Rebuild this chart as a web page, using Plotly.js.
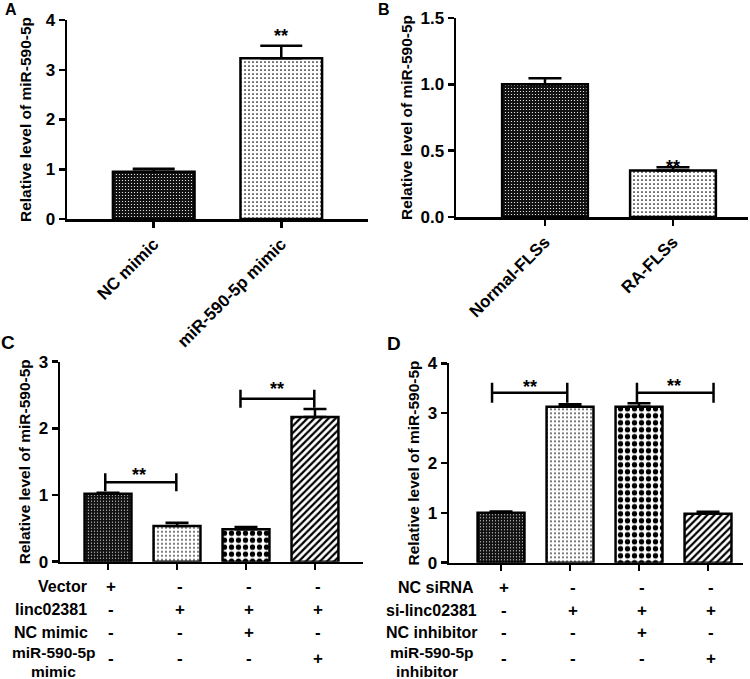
<!DOCTYPE html>
<html>
<head>
<meta charset="utf-8">
<script src="https://cdn.plot.ly/plotly-3.0.1.min.js"></script>
<style>html,body{margin:0;padding:0;background:#fff;}</style>
</head>
<body>
<div id="chart" style="width:750px;height:679px;"></div>
<script>
// ---------- data ----------
const catsA = ['NC mimic', 'miR-590-5p mimic'];
const meanA = [0.95, 3.23];
const errA  = [0.06, 0.25];

const catsB = ['Normal-FLSs', 'RA-FLSs'];
const meanB = [1.0, 0.35];
const errB  = [0.045, 0.025];

const groupsC = [0, 1, 2, 3];
const meanC = [1.02, 0.535, 0.485, 2.17];
const errC  = [0.015, 0.05, 0.035, 0.12];

const groupsD = [0, 1, 2, 3];
const meanD = [1.0, 3.13, 3.13, 0.98];
const errD  = [0.025, 0.05, 0.07, 0.04];

const rowsC = ['Vector', 'linc02381', 'NC mimic', 'miR-590-5p|mimic'];
const signsC = [['+','-','-','-'], ['-','+','+','+'], ['-','-','+','-'], ['-','-','-','+']];
const rowsD = ['NC siRNA', 'si-linc02381', 'NC inhibitor', 'miR-590-5p|inhibitor'];
const signsD = [['+','-','-','-'], ['-','+','+','+'], ['-','-','+','-'], ['-','-','-','+']];

const yTitle = 'Relative level of miR-590-5p';
const sigText = '**';

// ---------- styles ----------
const PAT = {
  dark:    {shape: '.', bgcolor: '#111111', fgcolor: '#ffffff', size: 3, solidity: 0.13},
  dots:    {shape: '.', bgcolor: '#ffffff', fgcolor: '#000000', size: 4, solidity: 0.14},
  checker: {shape: '.', bgcolor: '#ffffff', fgcolor: '#000000', size: 7, solidity: 0.45},
  diag:    {shape: '/', bgcolor: '#ffffff', fgcolor: '#000000', size: 5, solidity: 0.45}
};
function patArr(list) {
  return {
    shape: list.map(p => p.shape),
    bgcolor: list.map(p => p.bgcolor),
    fgcolor: list.map(p => p.fgcolor),
    size: list.map(p => p.size),
    solidity: list.map(p => p.solidity),
    fillmode: 'replace'
  };
}
function barTrace(x, y, err, pats, xa, ya, width, capw) {
  return {
    type: 'bar', x: x, y: y, xaxis: xa, yaxis: ya, width: width,
    marker: {color: 'white', line: {color: 'black', width: 2.5}, pattern: patArr(pats)},
    error_y: {type: 'data', symmetric: false, array: err, arrayminus: err.map(() => 0),
              color: 'black', thickness: 2.5, width: capw},
    hoverinfo: 'skip'
  };
}

const traces = [
  barTrace(catsA, meanA, errA, [PAT.dark, PAT.dots], 'x', 'y', 0.64, 21),
  barTrace(catsB, meanB, errB, [PAT.dark, PAT.dots], 'x2', 'y2', 0.67, 16.5),
  barTrace(groupsC, meanC, errC, [PAT.dark, PAT.dots, PAT.checker, PAT.diag], 'x3', 'y3', 0.68, 11.5),
  barTrace(groupsD, meanD, errD, [PAT.dark, PAT.dots, PAT.checker, PAT.diag], 'x4', 'y4', 0.68, 11.5)
];

const W = 750, H = 679;
const px = v => v / W;
const py = v => 1 - v / H;

function xAxis(l, r, range, anchor, showLabels, tickvals) {
  const a = {
    domain: [px(l), px(r)], range: range, anchor: anchor,
    showline: true, linecolor: 'black', linewidth: 2.5, mirror: false,
    ticks: 'outside', ticklen: 6, tickwidth: 2.5, tickcolor: 'black',
    showgrid: false, zeroline: false, fixedrange: true,
    showticklabels: showLabels, tickangle: -45, tickfont: {size: 17}
  };
  if (tickvals) { a.tickmode = 'array'; a.tickvals = tickvals; }
  return a;
}
function yAxis(top, bottom, range, dtick, anchor, fmt, standoff) {
  return {
    domain: [py(bottom), py(top)], range: range, anchor: anchor,
    showline: true, linecolor: 'black', linewidth: 2.5,
    ticks: 'outside', ticklen: 6, tickwidth: 2.5, tickcolor: 'black',
    dtick: dtick, tick0: 0, tickformat: fmt,
    showgrid: false, zeroline: false, fixedrange: true,
    tickfont: {size: 17},
    title: {text: yTitle, font: {size: 15.5}, standoff: standoff}
  };
}

const layout = {
  width: W, height: H, autosize: false,
  margin: {l: 0, r: 0, t: 0, b: 0},
  paper_bgcolor: 'white', plot_bgcolor: 'white', showlegend: false,
  font: {family: 'Liberation Sans, Arial, sans-serif', size: 17, color: 'black', weight: 'bold'},
  xaxis:  xAxis(67, 368, [-0.68, 1.68], 'y', true),
  yaxis:  yAxis(20, 219, [0, 4], 1, 'x', '', 10),
  xaxis2: xAxis(456, 748, [-0.695, 1.586], 'y2', true),
  yaxis2: yAxis(18, 217, [0, 1.5], 0.5, 'x2', '.1f', 4),
  xaxis3: xAxis(60, 363, [-0.696, 3.696], 'y3', false, groupsC),
  yaxis3: yAxis(361.7, 561.7, [0, 3], 1, 'x3', '', 4),
  xaxis4: xAxis(449, 743, [-0.754, 3.507], 'y4', false, groupsD),
  yaxis4: yAxis(363.3, 562.7, [0, 4], 1, 'x4', '', 4),
  shapes: [],
  annotations: []
};

// significance brackets
function bracket(xr, yr, x0, x1, y, half) {
  const ln = {color: 'black', width: 2.5};
  layout.shapes.push({type: 'line', xref: xr, yref: yr, x0: x0, x1: x1, y0: y, y1: y, line: ln});
  layout.shapes.push({type: 'line', xref: xr, yref: yr, x0: x0, x1: x0, y0: y - half, y1: y + half, line: ln});
  layout.shapes.push({type: 'line', xref: xr, yref: yr, x0: x1, x1: x1, y0: y - half, y1: y + half, line: ln});
}
function stars(xr, yr, x, y) {
  layout.annotations.push({xref: xr, yref: yr, x: x, y: y, text: sigText, showarrow: false,
    font: {size: 18}, xanchor: 'center', yanchor: 'middle'});
}
stars('x', 'y', 1, 3.68);
stars('x2', 'y2', 1, 0.375);
bracket('x3', 'y3', -0.04, 0.99, 1.19, 0.135);
bracket('x3', 'y3', 1.92, 2.99, 2.445, 0.135);
stars('x3', 'y3', 0.45, 1.30);
stars('x3', 'y3', 2.455, 2.585);
bracket('x4', 'y4', -0.13, 0.96, 3.41, 0.2);
bracket('x4', 'y4', 1.97, 3.08, 3.41, 0.2);
stars('x4', 'y4', 0.415, 3.53);
stars('x4', 'y4', 2.5, 3.55);

// panel letters
[['A', 11, 10, 16], ['B', 384, 10, 16], ['C', 8, 342, 19], ['D', 394, 343, 19]].forEach(p => {
  layout.annotations.push({xref: 'paper', yref: 'paper', x: px(p[1]), y: py(p[2]), text: p[0],
    showarrow: false, xanchor: 'center', yanchor: 'middle', font: {size: p[3]}});
});

// treatment tables
function table(rows, signs, xr, labelRight, rowY, lastY, lastRight, lastCenter) {
  rows.forEach((r, i) => {
    const parts = r.split('|');
    if (parts.length === 1) {
      layout.annotations.push({xref: 'paper', yref: 'paper', x: px(labelRight[i]), y: py(rowY[i]),
        text: parts[0], showarrow: false, xanchor: 'right', yanchor: 'middle', borderpad: 0, font: {size: 16}});
    } else {
      layout.annotations.push({xref: 'paper', yref: 'paper', x: px(lastRight), y: py(lastY[0]),
        text: parts[0], showarrow: false, xanchor: 'right', yanchor: 'middle', borderpad: 0, font: {size: 15.5}});
      layout.annotations.push({xref: 'paper', yref: 'paper', x: px(lastCenter), y: py(lastY[1]),
        text: parts[1], showarrow: false, xanchor: 'center', yanchor: 'middle', borderpad: 0, font: {size: 15.5}});
    }
    signs[i].forEach((s, j) => {
      layout.annotations.push({xref: xr, yref: 'paper', x: j, y: py(rowY[i] + (i === 3 ? 3 : 0)), xshift: 3,
        text: s, showarrow: false, xanchor: 'center', yanchor: 'middle', font: {size: 17}});
    });
  });
}
table(rowsC, signsC, 'x3', [88, 88, 89, 97], [586, 609, 632, 655], [652, 671], 97, 54);
table(rowsD, signsD, 'x4', [475, 478, 479, 475], [587, 610, 632, 655], [652, 671], 475, 427);

Plotly.newPlot('chart', traces, layout, {displayModeBar: false, staticPlot: true});
</script>
</body>
</html>
